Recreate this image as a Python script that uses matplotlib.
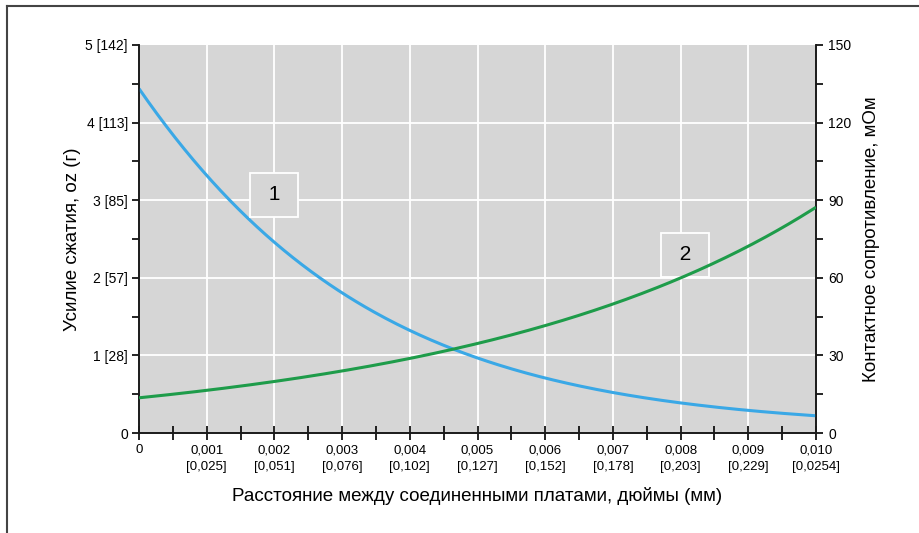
import matplotlib.pyplot as plt
import numpy as np
from matplotlib.lines import Line2D

plt.rcParams['font.family'] = ['Liberation Sans', 'DejaVu Sans']

# gap between mated boards, inches
gap_in = [0.0, 0.001, 0.002, 0.003, 0.004, 0.005, 0.006, 0.007, 0.008, 0.009, 0.010]
# normal force, oz (curve 1)
force_oz = [4.43, 3.33, 2.46, 1.79, 1.33, 0.97, 0.71, 0.52, 0.38, 0.30, 0.22]
# contact resistance, mOhm (curve 2)
resist_mohm = [13.5, 16.6, 20.1, 24.2, 28.6, 34.0, 41.4, 50.3, 60.3, 72.7, 86.6]

x_ticks = [0.0, 0.001, 0.002, 0.003, 0.004, 0.005, 0.006, 0.007, 0.008, 0.009, 0.010]
x_labels = ['0', '0,001\n[0,025]', '0,002\n[0,051]', '0,003\n[0,076]', '0,004\n[0,102]',
            '0,005\n[0,127]', '0,006\n[0,152]', '0,007\n[0,178]', '0,008\n[0,203]',
            '0,009\n[0,229]', '0,010\n[0,0254]']
left_ticks = [0, 1, 2, 3, 4, 5]
left_labels = ['0', '1 [28]', '2 [57]', '3 [85]', '4 [113]', '5 [142]']
right_ticks = [0, 30, 60, 90, 120, 150]

blue = '#3aa8e6'
green = '#1e9c4a'

fig = plt.figure(figsize=(9.19, 5.33), dpi=100)
ax = fig.add_axes([0.1513, 0.1876, 0.7366, 0.728])
ax.set_facecolor('#d6d6d6')

# smooth curves through the read points (cubic fit in log space)
xs = np.linspace(0, 0.010, 300)
cf = np.polyfit(gap_in, np.log(force_oz), 3)
cr = np.polyfit(gap_in, np.log(resist_mohm), 3)
f_s = np.exp(np.polyval(cf, xs))
r_s = np.exp(np.polyval(cr, xs))

ax.plot(xs, f_s, color=blue, lw=2.2, zorder=3, solid_capstyle='butt')
ax.set_xlim(0, 0.010)
ax.set_ylim(0, 5)

ax2 = ax.twinx()
ax2.plot(xs, r_s, color=green, lw=2.2, zorder=3, solid_capstyle='butt')
ax2.set_ylim(0, 150)

# grid
for xv in x_ticks[1:-1]:
    ax.axvline(xv, color='white', lw=1.3, zorder=1)
for yv in left_ticks[1:-1]:
    ax.axhline(yv, color='white', lw=1.3, zorder=1)

ax.set_xticks(x_ticks)
ax.set_xticklabels(x_labels, fontsize=9.5, linespacing=1.5, va='top')
ax.set_xticks(np.arange(0.0005, 0.010, 0.001), minor=True)
ax.tick_params(axis='x', which='both', direction='inout', length=10, width=1.2, pad=3)

ax.set_yticks(left_ticks)
ax.set_yticklabels(left_labels, fontsize=10)
ax.set_yticks(np.arange(0.5, 5, 1.0), minor=True)
ax.tick_params(axis='y', which='both', direction='out', length=5, width=1.2, pad=3)

ax2.set_yticks(right_ticks)
ax2.set_yticklabels([str(v) for v in right_ticks], fontsize=10)
ax2.set_yticks(np.arange(15, 150, 30), minor=True)
ax2.tick_params(axis='y', which='both', direction='out', length=5, width=1.2, pad=4)

for a in (ax, ax2):
    a.spines['top'].set_visible(False)
    for s in ('left', 'right', 'bottom'):
        a.spines[s].set_linewidth(1.2)
        a.spines[s].set_color('#1a1a1a')

ax.set_xlabel('Расстояние между соединенными платами, дюймы (мм)', fontsize=13.5, labelpad=10)
ax.set_ylabel('Усилие сжатия, oz (г)', fontsize=13.5, labelpad=3)
ax2.set_ylabel('Контактное сопротивление, мОм', fontsize=13.5, labelpad=8)

# curve markers
box = dict(boxstyle='square,pad=0.6', facecolor='#d6d6d6', edgecolor='white', lw=1.3)
ax.text(0.002, 3.07, ' 1 ', fontsize=15, ha='center', va='center', bbox=box, zorder=4)
ax.text(0.00807, 2.30, ' 2 ', fontsize=15, ha='center', va='center', bbox=box, zorder=4)

# frame lines
fig.add_artist(Line2D([7 / 919, 7 / 919], [0, 1 - 6 / 533], color='#444444', lw=1.5))
fig.add_artist(Line2D([7 / 919, 1], [1 - 6 / 533, 1 - 6 / 533], color='#444444', lw=1.5))

fig.savefig('out.png', dpi=100)
